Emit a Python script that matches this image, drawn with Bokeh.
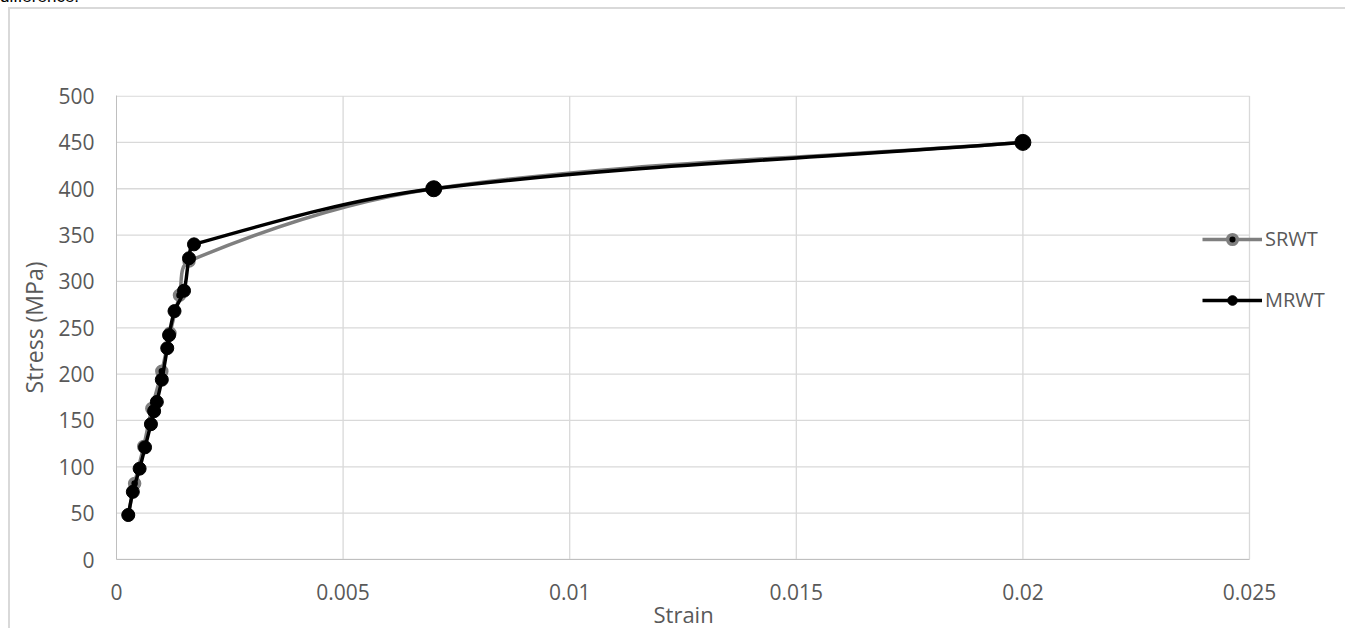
import numpy as np
from bokeh.plotting import figure
from bokeh.models import (Range1d, FixedTicker, CustomJSTickFormatter, Legend,
                          LegendItem, Div, Title)
from bokeh.layouts import column
from bokeh.embed import file_html
from bokeh.resources import INLINE

# ---------------- data ----------------
x_ticks = [0, 0.005, 0.01, 0.015, 0.02, 0.025]
y_ticks = [0, 50, 100, 150, 200, 250, 300, 350, 400, 450, 500]

srwt_strain = [0.00026, 0.00040, 0.00060, 0.00078, 0.00100, 0.00118, 0.00139,
               0.00160, 0.007, 0.02]
srwt_stress = [48, 82, 122, 163, 203, 244, 285, 322, 400, 450]

mrwt_strain = [0.00026, 0.00036, 0.00051, 0.00063, 0.00076, 0.00083, 0.00089,
               0.00100, 0.00112, 0.00116, 0.00128, 0.00149, 0.00160, 0.00171,
               0.007, 0.02]
mrwt_stress = [48, 73, 98, 121, 146, 160, 170, 194, 228, 242, 268, 290, 325,
               340, 400, 450]

series_names = ["SRWT", "MRWT"]
x_title = "Strain"
y_title = "Stress (MPa)"

# ---------------- style / layout ----------------
TEXT = "#595959"
GRID = "#d9d9d9"
AXIS = "#bfbfbf"
GRAY = "#7f7f7f"
FONT = "Open Sans"

FIG_W, FIG_H = 1337, 621
B_LEFT, B_TOP, B_BOTTOM = 106, 86, 71
FRAME_W = FIG_W - B_LEFT
AXIS_W = 1133              # pixels from 0 to the last x tick
FRAME_H = FIG_H - B_TOP - B_BOTTOM
X_END = x_ticks[-1] * FRAME_W / AXIS_W
Y_END = y_ticks[-1] + 0.6
SX = AXIS_W / x_ticks[-1]
SY = FRAME_H / Y_END


def smooth(x, y):
    """Bezier segments through the points (Excel-like smoothed line)."""
    x = np.asarray(x, float)
    y = np.asarray(y, float)
    n = len(x)
    xp = np.concatenate([[x[0]], x, [x[-1]]])
    yp = np.concatenate([[y[0]], y, [y[-1]]])
    d = np.hypot(np.diff(xp) * SX, np.diff(yp) * SY)
    i = np.arange(n - 1)
    f0 = d[i + 1] / np.maximum(d[i] + d[i + 1], 1e-9) / 3.0
    f1 = d[i + 1] / np.maximum(d[i + 1] + d[i + 2], 1e-9) / 3.0
    cx0 = x[:-1] + (xp[i + 2] - xp[i]) * f0
    cy0 = y[:-1] + (yp[i + 2] - yp[i]) * f0
    cx1 = x[1:] - (xp[i + 3] - xp[i + 1]) * f1
    cy1 = y[1:] - (yp[i + 3] - yp[i + 1]) * f1
    return dict(x0=x[:-1], y0=y[:-1], x1=x[1:], y1=y[1:],
                cx0=cx0, cy0=cy0, cx1=cx1, cy1=cy1)


p = figure(width=FIG_W, height=FIG_H, output_backend="svg",
           toolbar_location=None,
           x_range=Range1d(0, X_END), y_range=Range1d(0, Y_END),
           min_border_left=B_LEFT, min_border_right=0, min_border_top=B_TOP,
           min_border_bottom=B_BOTTOM,
           background_fill_color="white", border_fill_color="white",
           outline_line_color=None)

p.styles = {"margin-left": "8px", "border-left": "2px solid #d9d9d9",
            "border-top": "2px solid #d9d9d9"}

p.xaxis.ticker = FixedTicker(ticks=x_ticks)
p.yaxis.ticker = FixedTicker(ticks=y_ticks)
p.xaxis.bounds = (x_ticks[0], x_ticks[-1])
p.xaxis.formatter = CustomJSTickFormatter(
    code="return String(parseFloat(tick.toFixed(4)));")
p.yaxis.formatter = CustomJSTickFormatter(
    code="return String(Math.round(tick));")

for ax in (p.xaxis, p.yaxis):
    ax.major_tick_line_color = None
    ax.minor_tick_line_color = None
    ax.axis_line_color = AXIS
    ax.axis_line_width = 1
    ax.major_label_text_font = FONT
    ax.major_label_text_font_size = "21px"
    ax.major_label_text_color = TEXT
    ax.axis_label_text_font = FONT
    ax.axis_label_text_font_size = "23px"
    ax.axis_label_text_color = TEXT
    ax.axis_label_text_font_style = "normal"

p.yaxis.axis_label = y_title
p.xaxis.major_label_standoff = 18
p.yaxis.major_label_standoff = 16
p.yaxis.axis_label_standoff = 5

# x-axis title centred under the axis extent (not under the whole frame)
p.add_layout(Title(text=x_title, align="left", offset=537, standoff=-12,
                   text_font=FONT, text_font_size="22px", text_color=TEXT,
                   text_font_style="normal"), "below")

p.xgrid.grid_line_color = None
p.ygrid.grid_line_color = None

# grid lines limited to the axis extent
p.segment(x0=[x_ticks[0]] * len(y_ticks), x1=[x_ticks[-1]] * len(y_ticks),
          y0=y_ticks, y1=y_ticks, line_color=GRID, line_width=1.3,
          level="underlay")
p.segment(x0=x_ticks[1:], x1=x_ticks[1:], y0=[y_ticks[0]] * (len(x_ticks) - 1),
          y1=[y_ticks[-1]] * (len(x_ticks) - 1), line_color=GRID,
          line_width=1.3, level="underlay")

# SRWT (grey)
s = smooth(srwt_strain, srwt_stress)
p.bezier(x0=s["x0"], y0=s["y0"], x1=s["x1"], y1=s["y1"], cx0=s["cx0"],
         cy0=s["cy0"], cx1=s["cx1"], cy1=s["cy1"], line_color=GRAY,
         line_width=3.5, line_cap="round")
p.scatter(srwt_strain, srwt_stress, marker="circle", size=10,
          fill_color="black", line_color=GRAY, line_width=3.5)

# MRWT (black)
m = smooth(mrwt_strain, mrwt_stress)
p.bezier(x0=m["x0"], y0=m["y0"], x1=m["x1"], y1=m["y1"], cx0=m["cx0"],
         cy0=m["cy0"], cx1=m["cx1"], cy1=m["cy1"], line_color="black",
         line_width=3.5, line_cap="round")
p.scatter(mrwt_strain, mrwt_stress, marker="circle", size=13,
          fill_color="black", line_color="black", line_width=1)
p.scatter(mrwt_strain[-2:], mrwt_stress[-2:], marker="circle", size=16,
          fill_color="black", line_color="black", line_width=1)

# legend glyph renderers
lg_sl = p.line([np.nan], [np.nan], line_color=GRAY, line_width=3.5)
lg_sm = p.scatter([np.nan], [np.nan], marker="circle", size=10,
                  fill_color="black", line_color=GRAY, line_width=3.5)
lg_ml = p.line([np.nan], [np.nan], line_color="black", line_width=3.5)
lg_mm = p.scatter([np.nan], [np.nan], marker="circle", size=14,
                  fill_color="black", line_color="black")

legend = Legend(items=[LegendItem(label=series_names[0], renderers=[lg_sl, lg_sm]),
                       LegendItem(label=series_names[1], renderers=[lg_ml, lg_mm])],
                location=(1086, 246), glyph_width=60, glyph_height=24,
                label_height=24, spacing=34, padding=0, margin=0,
                label_standoff=3, border_line_color=None,
                background_fill_alpha=0, label_text_font=FONT,
                label_text_font_size="20px", label_text_color=TEXT,
                label_text_baseline="middle")
p.add_layout(legend, "center")

div = Div(text='<div style="position:relative;top:-13px;line-height:20px;'
               'font-size:17px;font-family:\'Liberation Sans\';color:#000;'
               'white-space:nowrap;">difference.</div>',
          width=300, height=7, margin=0, styles={"overflow": "hidden"})

layout = column(div, p, spacing=0)

open("out.html", "w").write(file_html(layout, INLINE))
